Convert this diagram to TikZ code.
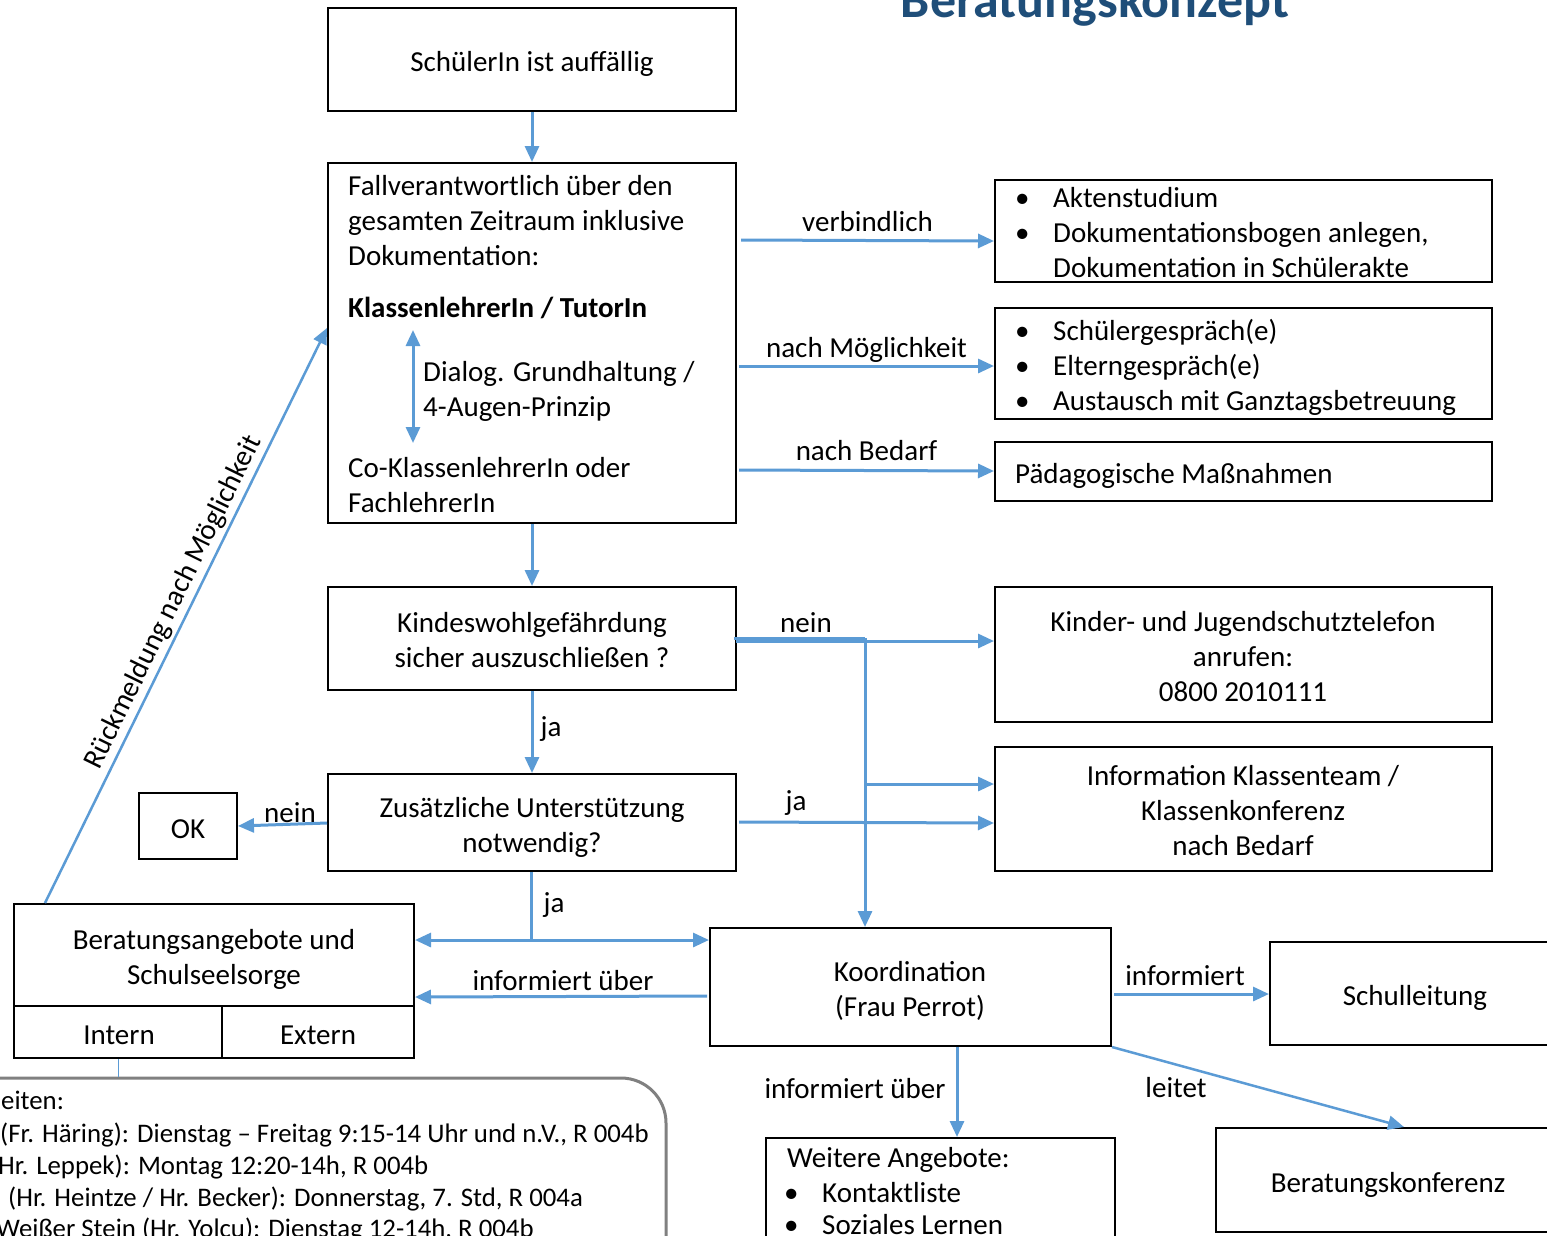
\documentclass[tikz,border=0pt]{standalone}
\usepackage{fontspec}
\setmainfont{Carlito}
\usetikzlibrary{arrows.meta,fit}
\definecolor{pfeilblau}{HTML}{5B9BD5}
\definecolor{titelblau}{HTML}{1F4E79}
\definecolor{rahmengrau}{HTML}{808080}

\begin{document}
\begin{tikzpicture}[x=1pt,y=-1pt,
  box/.style={draw, line width=2pt, inner sep=0pt},
  txt/.style={font=\fontsize{29}{35}\selectfont, inner sep=0pt, anchor=base},
  ltxt/.style={txt, anchor=base west, align=left},
  ctxt/.style={txt, align=center},
  ztxt/.style={ltxt, font=\fontsize{26.8}{32}\selectfont},
  pfeil/.style={draw=pfeilblau, line width=3pt, -{Triangle[length=16pt,width=14pt]}},
  linie/.style={draw=pfeilblau, line width=3pt},
  dpfeil/.style={draw=pfeilblau, line width=3pt, {Triangle[length=16pt,width=14pt]}-{Triangle[length=16pt,width=14pt]}}
]
\useasboundingbox (0,0) rectangle (1547,1235);
\clip (0,0) rectangle (1547,1235);
\fill[white] (0,0) rectangle (1547,1235);

% Titel
\node[font=\fontsize{52}{60}\selectfont\bfseries, text=titelblau, inner sep=0pt, anchor=base] (titel) at (1095,17) {Beratungskonzept};

% linke Spalte
\node[box, fit={(328,8) (736,111)}] (auffaellig) {};
\node[txt] (auffaellig-t) at (532,71) {SchülerIn ist auffällig};

% base = Grundlinie der letzten Zeile
\node[box, fit={(328,163) (736,523)}] (fall) {};
\node[ltxt] (fall-t1) at (348,265) {Fallverantwortlich über den\\gesamten Zeitraum inklusive\\Dokumentation:};
\node[ltxt, font=\fontsize{29}{35}\selectfont\bfseries] (fall-t2) at (348,317) {KlassenlehrerIn / TutorIn};
\node[ltxt] (fall-t3) at (423,416) {Dialog. Grundhaltung /\\4-Augen-Prinzip};
\node[ltxt] (fall-t4) at (348,512) {Co-KlassenlehrerIn oder\\FachlehrerIn};
\coordinate (dialog-oben) at (413,330);
\coordinate (dialog-unten) at (413,443);

\node[box, fit={(328,587) (736,690)}] (kwg) {};
\node[ctxt] (kwg-t) at (532,667) {Kindeswohlgefährdung\\sicher auszuschließen ?};

\node[box, fit={(328,774) (736,871)}] (zusatz) {};
\node[ctxt] (zusatz-t) at (532,852) {Zusätzliche Unterstützung\\notwendig?};

\node[box, fit={(139,793) (237,859)}] (ok) {};
\node[txt] (ok-t) at (188,838) {OK};

\node[box, fit={(14,904) (414,1006)}] (berat) {};
\node[ctxt] (berat-t) at (214,984) {Beratungsangebote und\\Schulseelsorge};
\node[box, fit={(14,1006) (222,1058)}] (intern) {};
\node[txt] (intern-t) at (119,1044) {Intern};
\node[box, fit={(222,1006) (414,1058)}] (extern) {};
\node[txt] (extern-t) at (318,1044) {Extern};

% Sprechzeiten
\node[draw=rahmengrau, line width=3pt, rounded corners=45pt, inner sep=0pt, fit={(-60,1078) (666,1320)}] (zeiten) {};
\node[ztxt] (zeiten-t1) at (1,1109) {eiten:};
\node[ztxt] (zeiten-t2) at (0,1142) {(Fr. Häring): Dienstag – Freitag 9:15-14 Uhr und n.V., R 004b};
\node[ztxt] (zeiten-t3) at (-2,1174) {Hr. Leppek): Montag 12:20-14h, R 004b};
\node[ztxt] (zeiten-t4) at (8,1206) {(Hr. Heintze / Hr. Becker): Donnerstag, 7. Std, R 004a};
\node[ztxt] (zeiten-t5) at (-4,1237) {Weißer Stein (Hr. Yolcu): Dienstag 12-14h, R 004b};

% rechte Spalte
\node[box, fit={(995,180) (1492,282)}] (akten) {};
\node[ltxt] (akten-t) at (1015,277) {\makebox[38pt][l]{•}Aktenstudium\\\makebox[38pt][l]{•}Dokumentationsbogen anlegen,\\\hspace*{38pt}Dokumentation in Schülerakte};

\node[box, fit={(995,308) (1492,419)}] (gespraech) {};
\node[ltxt] (gespraech-t) at (1015,410) {\makebox[38pt][l]{•}Schülergespräch(e)\\\makebox[38pt][l]{•}Elterngespräch(e)\\\makebox[38pt][l]{•}Austausch mit Ganztagsbetreuung};

\node[box, fit={(995,442) (1492,501)}] (paed) {};
\node[ltxt] (paed-t) at (1015,483) {Pädagogische Maßnahmen};

\node[box, fit={(995,587) (1492,722)}] (telefon) {};
\node[ctxt] (telefon-t) at (1243,701) {Kinder- und Jugendschutztelefon\\anrufen:\\0800 2010111};

\node[box, fit={(995,747) (1492,871)}] (info) {};
\node[ctxt] (info-t) at (1243,855) {Information Klassenteam /\\Klassenkonferenz\\nach Bedarf};

\node[box, fit={(710,928) (1111,1046)}] (koord) {};
\node[ctxt] (koord-t) at (910,1016) {Koordination\\(Frau Perrot)};

\node[box, fit={(1270,942) (1570,1045)}] (schulleitung) {};
\node[txt] (schulleitung-t) at (1415,1005) {Schulleitung};

\node[box, fit={(766,1138) (1115,1270)}] (weitere) {};
\node[ltxt] (weitere-t) at (787,1167) {Weitere Angebote:};
\node[ltxt] (weitere-l1) at (784,1202) {\makebox[38pt][l]{•}Kontaktliste};
\node[ltxt] (weitere-l2) at (784,1234) {\makebox[38pt][l]{•}Soziales Lernen};

\node[box, fit={(1216,1128) (1570,1232)}] (konferenz) {};
\node[txt] (konferenz-t) at (1388,1192) {Beratungskonferenz};

% Pfeile
\draw[pfeil] (auffaellig.south) -- (fall.north);
\draw[dpfeil] (dialog-oben) -- (dialog-unten);
\draw[pfeil] ([xshift=4pt]fall.east |- 0,240) -- (akten.west |- 0,241)
  node[txt, midway, yshift=9pt] {verbindlich};
\draw[pfeil] ([xshift=2pt]fall.east |- 0,366) -- (gespraech.west |- 0,366)
  node[txt, midway, yshift=9pt] {nach Möglichkeit};
\draw[pfeil] ([xshift=2pt]fall.east |- 0,470) -- (paed.west |- 0,471)
  node[txt, midway, yshift=10pt] {nach Bedarf};
\draw[pfeil] (fall.south) -- (kwg.north);

\coordinate (knick) at (865,638);
\coordinate (abzweig) at (865,784);
\draw[pfeil] ([xshift=-1pt]kwg.east |- 0,641) -- (telefon.west |- 0,641);
\draw[linie] ([xshift=-3pt]kwg.east |- 0,638) -- (knick);
\draw[pfeil] (knick) -- (koord.north -| knick);
\draw[pfeil] (abzweig) -- (info.west |- abzweig);
\node[txt] (nein1) at (806,632) {nein};

\draw[pfeil] (kwg.south) -- (zusatz.north);
\node[txt] (ja1) at (551,736) {ja};

\draw[pfeil] ([xshift=2pt]zusatz.east |- 0,822) -- (info.west |- 0,823);
\node[txt] (ja2) at (796,810) {ja};

\draw[pfeil] (zusatz.west |- 0,823) -- (ok.east |- 0,826);
\node[txt] (nein2) at (290,822) {nein};

\coordinate (verteil) at (531,940);
\draw[linie] (zusatz.south -| verteil) -- (verteil);
\draw[pfeil] (verteil) -- (berat.east |- verteil);
\draw[pfeil] (verteil) -- (koord.west |- verteil);
\node[txt] (ja3) at (554,912) {ja};

\draw[pfeil] ([xshift=-2pt]koord.west |- 0,996) -- (berat.east |- 0,997);
\node[txt] (infoueber1) at (563,990) {informiert über};

\draw[pfeil] ([xshift=2pt]koord.east |- 0,994) -- (schulleitung.west |- 0,994);
\node[txt] (informiert) at (1185,985) {informiert};

\draw[pfeil] (koord.south -| 957,0) -- (weitere.north -| 957,0);
\node[txt] (infoueber2) at (855,1098) {informiert über};

\draw[pfeil, line width=2.5pt] (koord.south east) -- ([xshift=189pt]konferenz.north west);
\node[txt] (leitet) at (1176,1097) {leitet};

\draw[pfeil, line width=2.5pt] ([xshift=32pt]berat.north west) -- (fall.west |- 0,328)
  node[txt, pos=0.51, sloped, anchor=south, inner sep=3pt] {Rückmeldung nach Möglichkeit};

\draw[draw=pfeilblau, line width=1pt] (intern.south) -- (intern.south |- zeiten.north);
\end{tikzpicture}
\end{document}
